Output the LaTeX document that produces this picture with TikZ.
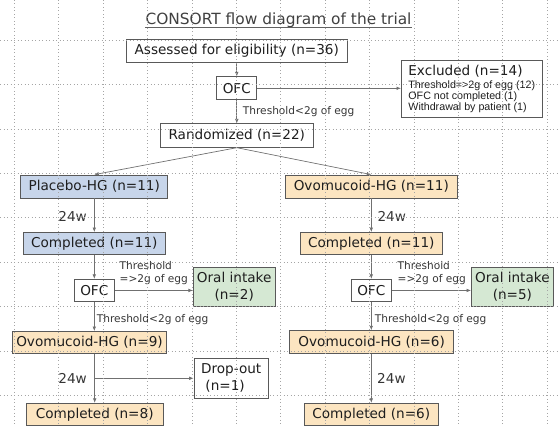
\documentclass[tikz,border=0pt]{standalone}
\usepackage{fontspec}
\setmainfont{DejaVu Sans}
\newfontfamily\narrowfont{Liberation Sans}
\usepackage{tikz}
\usetikzlibrary{arrows.meta,positioning,calc}
\definecolor{placeboblue}{RGB}{199,213,234}
\definecolor{ovopeach}{RGB}{252,229,193}
\definecolor{intakegreen}{RGB}{213,232,211}
\definecolor{boxgray}{RGB}{89,89,89}
\definecolor{flowgray}{RGB}{112,112,112}
\definecolor{gridgray}{RGB}{165,165,165}
\definecolor{inkdark}{RGB}{30,30,30}
\newcommand\boxfont{\normalfont\fontsize{13.6pt}{17pt}\selectfont}
\newcommand\lblfont{\normalfont\fontsize{10.6pt}{12.5pt}\selectfont}
\newcommand\exclfont{\narrowfont\fontsize{10.7pt}{11.3pt}\selectfont}
\newcommand\trialfont{\normalfont\fontsize{15.4pt}{18pt}\selectfont}
\tikzset{
  stepbox/.style={draw=boxgray, line width=0.8pt, align=center, inner sep=0pt,
    text=inkdark, font=\boxfont},
  bluebox/.style={stepbox, fill=placeboblue},
  orangebox/.style={stepbox, fill=ovopeach},
  greenbox/.style={stepbox, fill=intakegreen},
  whitebox/.style={stepbox, fill=white},
  flow/.style={-{Latex[length=4.5pt, width=3.6pt]}, line width=0.7pt, draw=flowgray},
  lbl/.style={font=\lblfont, inner sep=0pt, text=inkdark!90},
  gridline/.style={draw=gridgray, line width=0.5pt, dash pattern=on 0.9pt off 2.6pt}
}

\begin{document}
\begin{tikzpicture}[x=1pt, y=-1pt]
  \useasboundingbox (0,0) rectangle (558,427);
  % title
  \node[inner sep=0pt, anchor=base, text=inkdark!85, font=\trialfont] (title) at (278.5,25)
    {CONSORT flow diagram of the trial};
  \draw[draw=inkdark!70, line width=0.8pt] ($(title.base west)+(0,2)$) -- ($(title.base east)+(0,2)$);

  % screening
  \node[whitebox, minimum width=221pt, minimum height=23pt] (assess) at (236.8,51)
    {Assessed for eligibility (n=36)};
  \node[whitebox, minimum width=40pt, minimum height=23pt, below=13.5pt of assess] (ofc1) {OFC};
  \node[whitebox, minimum width=153pt, minimum height=23.4pt, below=23.3pt of ofc1] (rand) {Randomized (n=22)};
  \node[whitebox, fill=none, align=left, anchor=north west, minimum width=140.7pt,
    minimum height=56.7pt, font=\exclfont] (excl) at (401,60)
    {{\boxfont Excluded (n=14)}\\[1.7pt] Threshold=>2g of egg (12)\\ OFC not completed (1)\\ Withdrawal by patient (1)};

  % two arms
  \node[bluebox, minimum width=147pt, minimum height=23pt] (placebo) at (94.3,186.5) {Placebo-HG (n=11)};
  \node[orangebox, minimum width=172pt, minimum height=23pt] (ovo1) at (371.3,186.5) {Ovomucoid-HG (n=11)};
  \node[bluebox, minimum width=142pt, minimum height=22.3pt, below=33.7pt of placebo] (compL) {Completed (n=11)};
  \node[orangebox, minimum width=141.6pt, minimum height=22.3pt, below=33.7pt of ovo1] (compR) {Completed (n=11)};
  \node[whitebox, minimum width=40pt, minimum height=22.3pt, below=23.7pt of compL] (ofcL) {OFC};
  \node[whitebox, minimum width=40.6pt, minimum height=22.3pt, below=23.7pt of compR] (ofcR) {OFC};
  \node[greenbox, minimum width=81.7pt, minimum height=39pt] (oralL) at (234.2,287.2) {Oral intake\\(n=2)};
  \node[greenbox, minimum width=81.8pt, minimum height=39pt] (oralR) at (512.4,287.2) {Oral intake\\(n=5)};
  \node[orangebox, minimum width=154.4pt, minimum height=21.8pt] (ovoL) at (89.5,342.4) {Ovomucoid-HG (n=9)};
  \node[orangebox, minimum width=164pt, minimum height=22.6pt] (ovoR) at (371.7,342) {Ovomucoid-HG (n=6)};
  \node[whitebox, align=left, minimum width=74.3pt, minimum height=40pt] (dropout) at (231.2,378.3)
    {Drop-out\\\ (n=1)};
  \node[orangebox, minimum width=137.3pt, minimum height=22.4pt] (doneL) at (94.7,414.5) {Completed (n=8)};
  \node[orangebox, minimum width=133.3pt, minimum height=22.4pt] (doneR) at (371.3,414.5) {Completed (n=6)};

  % labels
  \node[lbl, anchor=west] (thr0) at (242.7,111.7) {Threshold<2g of egg};
  \node[lbl, anchor=east, font=\boxfont] (wkA) at (87,216) {24w};
  \node[lbl, anchor=west, font=\boxfont] (wkB) at (377.3,216) {24w};
  \node[lbl, align=left, anchor=west] (thrL) at (119.5,273) {Threshold\\=>2g of egg};
  \node[lbl, align=left, anchor=west] (thrR) at (397.5,273) {Threshold\\=>2g of egg};
  \node[lbl, anchor=west] (thr1) at (96.7,320) {Threshold<2g of egg};
  \node[lbl, anchor=west] (thr2) at (374.7,320) {Threshold<2g of egg};
  \node[lbl, anchor=east, font=\boxfont] (wkC) at (87,378) {24w};
  \node[lbl, anchor=west, font=\boxfont] (wkD) at (377,378) {24w};

  % connectors
  \draw[flow] (assess) -- (ofc1);
  \draw[flow] (ofc1) -- (rand);
  \draw[flow] (ofc1.east) -- (ofc1.east -| excl.west);
  \draw[flow] (rand.south) -- (placebo.north);
  \draw[flow] (rand.south) -- (ovo1.north);
  \draw[flow] (placebo) -- (compL);
  \draw[flow] (ovo1) -- (compR);
  \draw[flow] (compL) -- (ofcL);
  \draw[flow] (compR) -- (ofcR);
  \draw[flow] (ofcL.east) -- (ofcL.east -| oralL.west);
  \draw[flow] (ofcR.east) -- (ofcR.east -| oralR.west);
  \draw[flow] (ofcL.south) -- (ofcL.south |- ovoL.north);
  \draw[flow] (ofcR.south) -- (ofcR.south |- ovoR.north);
  \draw[flow] (ovoL.south -| doneL.north) -- (doneL.north);
  \draw[flow] (ovoR.south -| doneR.north) -- (doneR.north);
  \coordinate (splitL) at ($(ovoL.south -| doneL.north)!0.5!(doneL.north)$);
  \draw[flow] (splitL) -- (splitL -| dropout.west);

  % slide grid
  \foreach \gx in {0,...,12}
    \draw[gridline] ({14.2+44.4*\gx},0) -- ++(0,427);
  \foreach \gy in {0,...,8}
    \draw[gridline] (0,{40+44.4*\gy}) -- ++(558,0);
\end{tikzpicture}
\end{document}
